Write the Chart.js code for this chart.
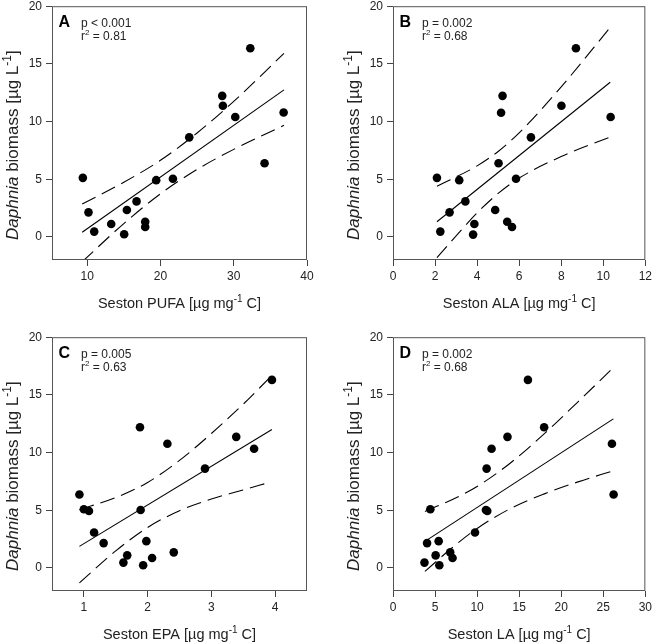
<!DOCTYPE html>
<html>
<head>
<meta charset="utf-8">
<script src="https://cdn.jsdelivr.net/npm/chart.js@4"></script>
<style>
body { margin: 0; background: #fff; width: 655px; height: 643px; position: relative; overflow: hidden; }
canvas { position: absolute; }
</style>
</head>
<body>
<canvas id="pA" width="330" height="336" style="left:0;top:-5px"></canvas>
<canvas id="pB" width="314" height="336" style="left:341px;top:-5px"></canvas>
<canvas id="pC" width="330" height="317" style="left:0;top:326px"></canvas>
<canvas id="pD" width="314" height="317" style="left:341px;top:326px"></canvas>
<script>
// Daphnia biomass vs seston fatty acids
var yTicks = [0, 5, 10, 15, 20];

var pufaX = [9.41, 10.18, 10.96, 13.28, 15.05, 15.42, 16.74, 17.92, 17.92, 19.42, 21.70, 23.93, 28.43, 28.52, 30.21, 32.26, 34.21, 36.81];
var pufaY = [5.12, 2.13, 0.46, 1.12, 0.23, 2.33, 3.08, 1.32, 0.86, 4.92, 5.04, 8.63, 12.23, 11.37, 10.39, 16.35, 6.39, 10.79];
var pufaFitX = [9.32, 36.86];
var pufaFitY = [0.40, 12.75];
var pufaBandX = [9.32, 15, 20, 25, 30, 36.86];
var pufaUpper = [2.85, 4.74, 6.64, 9.01, 11.75, 15.91];
var pufaLower = [-2.15, 1.16, 3.74, 5.85, 7.59, 9.67];
var pufaTicks = [10, 20, 30, 40];

var alaX = [2.09, 2.25, 2.69, 3.15, 3.44, 3.81, 3.87, 4.86, 5.02, 5.14, 5.21, 5.43, 5.66, 5.85, 6.56, 8.01, 8.70, 10.35];
var alaY = [5.12, 0.46, 2.13, 4.92, 3.08, 0.20, 1.12, 2.33, 6.39, 10.76, 12.23, 1.32, 0.86, 5.04, 8.63, 11.37, 16.35, 10.39];
var alaFitX = [2.09, 10.33];
var alaFitY = [1.32, 13.41];
var alaBandX = [2.09, 4, 5, 6, 8, 10.33];
var alaUpper = [4.40, 6.16, 7.41, 9.02, 13.01, 18.16];
var alaLower = [-1.8, 2.08, 3.77, 5.10, 6.97, 8.66];
var alaTicks = [0, 2, 4, 6, 8, 10, 12];

var epaX = [0.93, 1.00, 1.08, 1.16, 1.31, 1.62, 1.68, 1.88, 1.89, 1.93, 1.98, 2.07, 2.31, 2.41, 2.90, 3.39, 3.67, 3.95];
var epaY = [6.37, 5.08, 4.94, 3.07, 2.15, 0.46, 1.09, 12.19, 5.02, 0.23, 2.32, 0.86, 10.76, 1.35, 8.61, 11.36, 10.33, 16.30];
var epaFitX = [0.93, 3.95];
var epaFitY = [1.87, 12.0];
var epaBandX = [0.93, 1.5, 2.0, 2.5, 3.0, 3.5, 3.9];
var epaUpper = [5.05, 6.10, 7.41, 9.32, 11.65, 14.20, 16.4];
var epaLower = [-1.29, 1.48, 3.51, 4.96, 5.97, 6.76, 7.4];
var epaTicks = [1, 2, 3, 4];

var laX = [3.74, 4.05, 4.44, 5.07, 5.43, 5.51, 6.80, 7.08, 9.75, 11.05, 11.21, 11.13, 11.72, 13.61, 16.04, 17.97, 26.03, 26.23];
var laY = [0.46, 2.15, 5.08, 1.09, 2.32, 0.23, 1.35, 0.86, 3.07, 5.02, 4.94, 8.61, 10.33, 11.36, 16.30, 12.19, 10.76, 6.37];
var laFitX = [3.8, 26.2];
var laFitY = [2.30, 12.92];
var laBandX = [3.8, 7, 10, 14, 18, 22, 26.1];
var laUpper = [4.9, 5.91, 7.06, 9.12, 11.64, 14.40, 17.3];
var laLower = [-0.3, 1.73, 3.42, 5.16, 6.42, 7.46, 8.4];
var laTicks = [0, 5, 10, 15, 20, 25, 30];

var FONT = '"Liberation Sans", Arial, sans-serif';
Chart.defaults.font.family = FONT;
Chart.defaults.color = '#222';

function pts(xs, ys) {
    return xs.map((x, i) => ({x: x, y: ys[i]}));
}

// draw a run of text pieces: n = normal, i = italic, s = superscript, b = bold
function rich(ctx, parts, x, y, size, center) {
    var font = k => (k == 'i' ? 'italic ' : k == 'b' ? 'bold ' : '') + (k == 's' ? Math.round(size * 0.7) : size) + 'px ' + FONT;
    var w = 0;
    parts.forEach(p => { ctx.font = font(p[1]); w += ctx.measureText(p[0]).width; });
    var cx = center ? x - w / 2 : x;
    ctx.textAlign = 'left';
    ctx.textBaseline = 'alphabetic';
    parts.forEach(p => {
        ctx.font = font(p[1]);
        ctx.fillText(p[0], cx, p[1] == 's' ? y - size * 0.42 : y);
        cx += ctx.measureText(p[0]).width;
    });
}

var deco = {
    id: 'deco',
    afterDraw(chart, args, o) {
        var ctx = chart.ctx, a = chart.chartArea;
        ctx.save();
        ctx.strokeStyle = '#555';
        ctx.lineWidth = 1;
        ctx.strokeRect(a.left + 0.5, a.top + 0.5, a.right - a.left - 1, a.bottom - a.top - 1);
        ctx.fillStyle = '#222';
        // x title
        rich(ctx, [['Seston ' + o.fa + ' [µg mg', 'n'], ['-1', 's'], [' C]', 'n']], (a.left + a.right) / 2, a.bottom + 48, 14.5, true);
        // y title
        ctx.save();
        ctx.translate(a.left - 34, (a.top + a.bottom) / 2 + 12);
        ctx.rotate(-Math.PI / 2);
        rich(ctx, [['Daphnia', 'i'], [' biomass [µg L', 'n'], ['-1', 's'], [']', 'n']], 0, 0, 17, true);
        ctx.restore();
        // panel letter and stats
        ctx.fillStyle = '#000';
        rich(ctx, [[o.letter, 'b']], a.left + 6.5, a.top + 20.5, 16, false);
        ctx.fillStyle = '#222';
        rich(ctx, [[o.p, 'n']], a.left + 29, a.top + 20.5, 12, false);
        rich(ctx, [['r', 'n'], ['2', 's'], [' = ' + o.r2, 'n']], a.left + 29, a.top + 34, 12, false);
        ctx.restore();
    }
};

function panel(id, fa, letter, p, r2, xs, ys, fitX, fitY, bandX, upper, lower, xMin, xMax, xTicks, padRight) {
    var el = document.getElementById(id);
    var H = el.height;
    var tickGrid = {display: true, drawOnChartArea: false, drawTicks: true, tickLength: 6, color: '#444'};
    var band = data => ({
        data: pts(bandX, data), showLine: true, pointRadius: 0, borderColor: '#000', borderWidth: 1.1,
        borderDash: [15, 7], cubicInterpolationMode: 'monotone'
    });
    return new Chart(el.getContext('2d'), {
        type: 'scatter',
        data: {
            datasets: [
                {data: pts(xs, ys), pointRadius: 4.3, backgroundColor: '#000', borderWidth: 0},
                {data: pts(fitX, fitY), showLine: true, pointRadius: 0, borderColor: '#000', borderWidth: 1.1},
                band(upper),
                band(lower)
            ]
        },
        options: {
            responsive: false,
            animation: false,
            layout: {padding: {top: 10, right: padRight, left: 0, bottom: 0}},
            plugins: {legend: {display: false}, tooltip: {enabled: false}, deco: {fa: fa, letter: letter, p: p, r2: r2}},
            scales: {
                x: {
                    type: 'linear', min: xMin, max: xMax,
                    afterBuildTicks: s => { s.ticks = xTicks.map(v => ({value: v})); },
                    afterFit: s => { s.height = H - 265; },
                    ticks: {font: {size: 12}, padding: 3, maxRotation: 0, autoSkip: false, callback: v => v},
                    grid: tickGrid, border: {display: false}
                },
                y: {
                    min: -2, max: 20,
                    afterBuildTicks: s => { s.ticks = yTicks.map(v => ({value: v})); },
                    afterFit: s => { s.width = 52; },
                    ticks: {font: {size: 12}, padding: 4, autoSkip: false},
                    grid: tickGrid, border: {display: false}
                }
            }
        },
        plugins: [deco]
    });
}

panel('pA', 'PUFA', 'A', 'p < 0.001', '0.81', pufaX, pufaY, pufaFitX, pufaFitY, pufaBandX, pufaUpper, pufaLower, 5.2, 40, pufaTicks, 23);
panel('pB', 'ALA', 'B', 'p = 0.002', '0.68', alaX, alaY, alaFitX, alaFitY, alaBandX, alaUpper, alaLower, 0, 12, alaTicks, 7);
panel('pC', 'EPA', 'C', 'p = 0.005', '0.63', epaX, epaY, epaFitX, epaFitY, epaBandX, epaUpper, epaLower, 0.5, 4.5, epaTicks, 23);
panel('pD', 'LA', 'D', 'p = 0.002', '0.68', laX, laY, laFitX, laFitY, laBandX, laUpper, laLower, 0, 30, laTicks, 7);
</script>
</body>
</html>
